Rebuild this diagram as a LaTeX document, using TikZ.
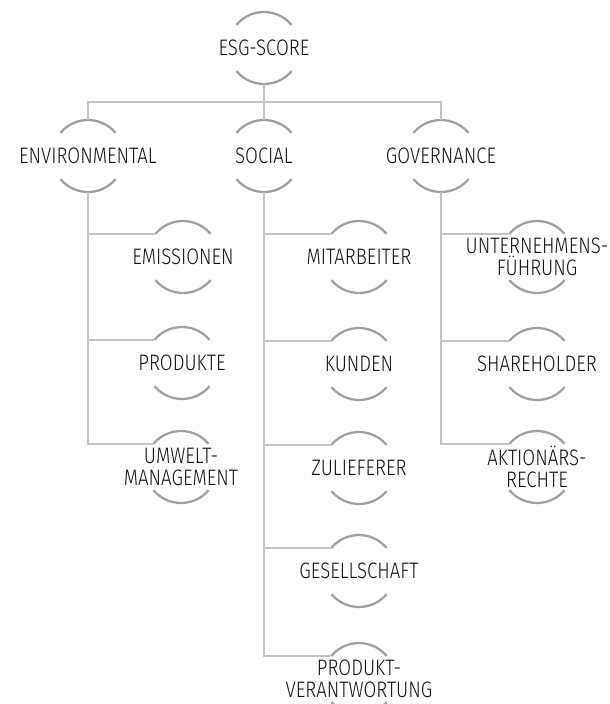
\documentclass[tikz,border=0pt]{standalone}
\usepackage{fontspec}
\setmainfont{Fira Sans Light}[FakeStretch=0.83]
\definecolor{connector}{HTML}{C2C2C2}
\definecolor{rim}{HTML}{A0A0A0}
\definecolor{ink}{HTML}{111111}
\begin{document}
\begin{tikzpicture}[x=0.75pt,y=-0.75pt,
  hub/.style={circle,minimum size=54pt,inner sep=0pt,outer sep=0pt},
  lbl/.style={inner sep=0pt,align=center,text=ink,
    font=\fontsize{16.8}{16.6}\selectfont},
  conn/.style={draw=connector,line width=1.9pt},
  rimline/.style={draw=rim,line width=1.7pt}]
\useasboundingbox (0,0) rectangle (610,704);

% root
\node[hub,label={[lbl]center:ESG-SCORE}] (esg) at (264,48) {};
% pillars
\node[hub,label={[lbl]center:ENVIRONMENTAL}] (env) at (88,156) {};
\node[hub,label={[lbl]center:SOCIAL}] (soc) at (264,156) {};
\node[hub,label={[lbl]center:GOVERNANCE}] (gov) at (441,156) {};
% environmental topics
\node[hub,label={[lbl]center:EMISSIONEN}] (em) at (183,257) {};
\node[hub,label={[lbl]center:PRODUKTE}] (pr) at (182,363) {};
\node[hub,label={[lbl]center:UMWELT-\\MANAGEMENT}] (um) at (181,467) {};
% social topics
\node[hub,label={[lbl]center:MITARBEITER}] (mi) at (359,257) {};
\node[hub,label={[lbl]center:KUNDEN}] (ku) at (359,364) {};
\node[hub,label={[lbl]center:ZULIEFERER}] (zu) at (359,468) {};
\node[hub,label={[lbl]center:GESELLSCHAFT}] (ge) at (359,571) {};
\node[hub,label={[lbl]center:PRODUKT-\\VERANTWORTUNG}] (pv) at (359,679) {};
% governance topics
\node[hub,label={[lbl]center:UNTERNEHMENS-\\FÜHRUNG}] (un) at (537,257) {};
\node[hub,label={[lbl]center:SHAREHOLDER}] (sh) at (537,364) {};
\node[hub,label={[lbl]center:AKTIONÄRS-\\RECHTE}] (ak) at (537,467) {};

% upper and lower rims of every circle
\foreach \n in {esg,env,soc,gov,em,pr,um,mi,ku,zu,ge,pv,un,sh,ak}{
  \draw[rimline] (\n.40) arc[start angle=40,end angle=140,radius=27pt];
  \draw[rimline] (\n.220) arc[start angle=220,end angle=320,radius=27pt];
}

% top level connectors
\coordinate (bar) at (264,102);
\draw[conn] (esg.south) -- (soc.north);
\draw[conn] (env.north) |- (bar) -| (gov.north);

% environmental branch
\draw[conn] (env.south) |- (um.140);
\draw[conn] (env.south |- em.140) -- (em.140);
\draw[conn] (env.south |- pr.140) -- (pr.140);

% social branch
\draw[conn] (soc.south) |- (pv.140);
\draw[conn] (soc.south |- mi.140) -- (mi.140);
\draw[conn] (soc.south |- ku.140) -- (ku.140);
\draw[conn] (soc.south |- zu.140) -- (zu.140);
\draw[conn] (soc.south |- ge.140) -- (ge.140);

% governance branch
\draw[conn] (gov.south) |- (ak.140);
\draw[conn] (gov.south |- un.140) -- (un.140);
\draw[conn] (gov.south |- sh.140) -- (sh.140);
\end{tikzpicture}
\end{document}
